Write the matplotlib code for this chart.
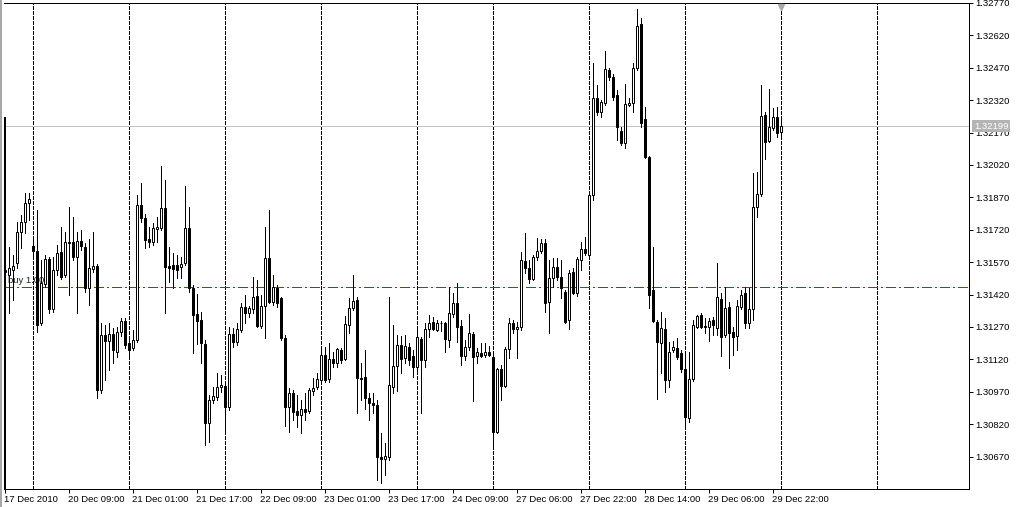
import matplotlib
matplotlib.use("Agg")
import matplotlib.pyplot as plt
from matplotlib.patches import Rectangle

# H1 bars, 17 Dec 2010 17:00 .. 30 Dec 2010 00:00 (index = bar number)
opens = [
    1.31525, 1.31511, 1.31534, 1.31566, 1.31710, 1.31756, 1.31844, 1.31645, 1.31622, 1.31289,
    1.31469, 1.31585, 1.31353, 1.31534, 1.31617, 1.31511, 1.31664, 1.31664, 1.31594, 1.31668,
    1.31640, 1.31451, 1.31538, 1.31552, 1.30978, 1.31233, 1.31205, 1.31238, 1.31154, 1.31247,
    1.31298, 1.31196, 1.31173, 1.31210, 1.31835, 1.31775, 1.31677, 1.31664, 1.31724, 1.31728,
    1.31821, 1.31552, 1.31557, 1.31557, 1.31548, 1.31566, 1.31728, 1.31451, 1.31330, 1.31302,
    1.31191, 1.30826, 1.30932, 1.30946, 1.30992, 1.30997, 1.30900, 1.31238, 1.31201, 1.31256,
    1.31363, 1.31335, 1.31353, 1.31413, 1.31275, 1.31367, 1.31589, 1.31386, 1.31451, 1.31404,
    1.31219, 1.30900, 1.30964, 1.30881, 1.30863, 1.30890, 1.30881, 1.30974, 1.30992, 1.31025,
    1.31140, 1.31029, 1.31122, 1.31103, 1.31164, 1.31122, 1.31279, 1.31358, 1.31395, 1.31034,
    1.31038, 1.30941, 1.30918, 1.30909, 1.30668, 1.30659, 1.30668, 1.30992, 1.31089, 1.31187,
    1.31126, 1.31177, 1.31136, 1.31085, 1.31214, 1.31117, 1.31261, 1.31293, 1.31256, 1.31289,
    1.31289, 1.31210, 1.31330, 1.31381, 1.31275, 1.31136, 1.31177, 1.31238, 1.31136, 1.31150,
    1.31140, 1.31154, 1.31131, 1.30784, 1.31076, 1.30997, 1.31168, 1.31289, 1.31261, 1.31270,
    1.31576, 1.31543, 1.31492, 1.31594, 1.31622, 1.31659, 1.31386, 1.31497, 1.31548, 1.31501,
    1.31432, 1.31302, 1.31525, 1.31427, 1.31580, 1.31631, 1.31603, 1.31881, 1.32330, 1.32265,
    1.32307, 1.32460, 1.32427, 1.32344, 1.32177, 1.32122, 1.32298, 1.32307, 1.32469, 1.32673,
    1.32233, 1.32057, 1.31441, 1.31293, 1.31196, 1.31261, 1.31025, 1.31164, 1.31173, 1.31150,
    1.31076, 1.30849, 1.31029, 1.31270, 1.31326, 1.31275, 1.31270, 1.31302, 1.31265, 1.31400,
    1.31233, 1.31363, 1.31247, 1.31228, 1.31363, 1.31427, 1.31289, 1.31353, 1.31826, 1.31886,
    1.32252, 1.32131, 1.32191, 1.32242, 1.32173,
]
highs = [
    1.31571, 1.31640, 1.31603, 1.31756, 1.31789, 1.31890, 1.31890, 1.31673, 1.31812, 1.31580,
    1.31603, 1.31594, 1.31594, 1.31650, 1.31733, 1.31710, 1.31826, 1.31779, 1.31710, 1.31719,
    1.31659, 1.31677, 1.31710, 1.31562, 1.31289, 1.31279, 1.31289, 1.31265, 1.31270, 1.31312,
    1.31312, 1.31224, 1.31256, 1.31881, 1.31937, 1.31793, 1.31733, 1.31751, 1.31779, 1.32015,
    1.31951, 1.31640, 1.31613, 1.31603, 1.31594, 1.31923, 1.31826, 1.31464, 1.31423, 1.31339,
    1.31210, 1.30955, 1.30992, 1.31057, 1.31048, 1.31006, 1.31270, 1.31265, 1.31289, 1.31381,
    1.31418, 1.31367, 1.31501, 1.31488, 1.31418, 1.31733, 1.31812, 1.31511, 1.31464, 1.31409,
    1.31233, 1.30988, 1.30978, 1.30955, 1.30932, 1.30964, 1.30988, 1.31034, 1.31057, 1.31177,
    1.31177, 1.31196, 1.31154, 1.31173, 1.31173, 1.31321, 1.31404, 1.31511, 1.31409, 1.31103,
    1.31164, 1.30964, 1.30964, 1.30932, 1.30779, 1.30733, 1.31409, 1.31279, 1.31233, 1.31228,
    1.31233, 1.31196, 1.31164, 1.31275, 1.31224, 1.31289, 1.31326, 1.31316, 1.31302, 1.31298,
    1.31293, 1.31455, 1.31427, 1.31474, 1.31302, 1.31210, 1.31330, 1.31247, 1.31173, 1.31196,
    1.31196, 1.31182, 1.31154, 1.31080, 1.31094, 1.31177, 1.31312, 1.31302, 1.31293, 1.31617,
    1.31705, 1.31580, 1.31603, 1.31682, 1.31677, 1.31677, 1.31580, 1.31589, 1.31589, 1.31580,
    1.31441, 1.31534, 1.31543, 1.31594, 1.31664, 1.31687, 1.31895, 1.32492, 1.32390, 1.32321,
    1.32548, 1.32469, 1.32441, 1.32367, 1.32196, 1.32395, 1.32330, 1.32492, 1.32742, 1.32701,
    1.32289, 1.32062, 1.31640, 1.31302, 1.31339, 1.31312, 1.31201, 1.31205, 1.31219, 1.31164,
    1.31159, 1.31154, 1.31302, 1.31326, 1.31335, 1.31312, 1.31312, 1.31316, 1.31566, 1.31427,
    1.31455, 1.31386, 1.31270, 1.31395, 1.31441, 1.31455, 1.31451, 1.31983, 1.31988, 1.32390,
    1.32265, 1.32372, 1.32284, 1.32289, 1.32242,
]
lows = [
    1.31395, 1.31335, 1.31395, 1.31543, 1.31636, 1.31705, 1.31765, 1.31589, 1.31247, 1.31279,
    1.31455, 1.31335, 1.31339, 1.31511, 1.31492, 1.31501, 1.31418, 1.31580, 1.31335, 1.31626,
    1.31432, 1.31372, 1.31525, 1.30941, 1.30964, 1.31025, 1.31071, 1.31103, 1.31131, 1.31228,
    1.31173, 1.31126, 1.31164, 1.31201, 1.31756, 1.31636, 1.31640, 1.31650, 1.31664, 1.31719,
    1.31335, 1.31478, 1.31451, 1.31497, 1.31497, 1.31557, 1.31432, 1.31150, 1.31191, 1.31103,
    1.30724, 1.30738, 1.30918, 1.30932, 1.30969, 1.30793, 1.30886, 1.31177, 1.31187, 1.31247,
    1.31289, 1.31316, 1.31335, 1.31270, 1.31265, 1.31219, 1.31381, 1.31372, 1.31363, 1.31210,
    1.30812, 1.30784, 1.30839, 1.30807, 1.30779, 1.30839, 1.30872, 1.30955, 1.30983, 1.31011,
    1.31015, 1.31015, 1.31085, 1.31085, 1.31103, 1.31117, 1.31242, 1.31349, 1.30872, 1.30932,
    1.30890, 1.30839, 1.30872, 1.30562, 1.30548, 1.30585, 1.30654, 1.30964, 1.30974, 1.31057,
    1.31103, 1.31094, 1.31038, 1.31062, 1.30872, 1.31085, 1.31224, 1.31256, 1.31251, 1.31251,
    1.31154, 1.31177, 1.31316, 1.31201, 1.31094, 1.31117, 1.31164, 1.30927, 1.31103, 1.31131,
    1.31131, 1.31136, 1.30714, 1.30779, 1.30932, 1.30992, 1.31126, 1.31242, 1.31126, 1.31256,
    1.31520, 1.31474, 1.31488, 1.31580, 1.31613, 1.31339, 1.31242, 1.31455, 1.31488, 1.31404,
    1.31289, 1.31261, 1.31423, 1.31413, 1.31534, 1.31603, 1.31589, 1.31858, 1.32252, 1.32242,
    1.32298, 1.32414, 1.32321, 1.32136, 1.32113, 1.32099, 1.32293, 1.32265, 1.32460, 1.32196,
    1.32052, 1.31358, 1.31293, 1.30937, 1.31057, 1.30969, 1.30992, 1.31154, 1.31122, 1.31062,
    1.30816, 1.30830, 1.31020, 1.31265, 1.31265, 1.31242, 1.31205, 1.31233, 1.31233, 1.31136,
    1.31224, 1.31080, 1.31140, 1.31164, 1.31353, 1.31265, 1.31265, 1.31302, 1.31779, 1.31877,
    1.32048, 1.32127, 1.32182, 1.32150, 1.32150,
]
closes = [
    1.31534, 1.31543, 1.31552, 1.31710, 1.31756, 1.31844, 1.31863, 1.31622, 1.31279, 1.31474,
    1.31585, 1.31353, 1.31534, 1.31613, 1.31501, 1.31664, 1.31659, 1.31594, 1.31668, 1.31645,
    1.31451, 1.31543, 1.31552, 1.30978, 1.31233, 1.31205, 1.31238, 1.31164, 1.31247, 1.31298,
    1.31187, 1.31164, 1.31210, 1.31835, 1.31775, 1.31673, 1.31664, 1.31728, 1.31733, 1.31821,
    1.31548, 1.31543, 1.31538, 1.31534, 1.31562, 1.31728, 1.31451, 1.31326, 1.31298, 1.31196,
    1.30826, 1.30932, 1.30951, 1.30992, 1.31001, 1.30900, 1.31238, 1.31201, 1.31261, 1.31363,
    1.31335, 1.31358, 1.31409, 1.31275, 1.31367, 1.31589, 1.31386, 1.31455, 1.31381, 1.31219,
    1.30900, 1.30964, 1.30876, 1.30863, 1.30890, 1.30876, 1.30978, 1.30988, 1.31029, 1.31140,
    1.31025, 1.31122, 1.31103, 1.31168, 1.31117, 1.31284, 1.31358, 1.31390, 1.31034, 1.31029,
    1.30941, 1.30918, 1.30909, 1.30668, 1.30659, 1.30673, 1.31001, 1.31089, 1.31187, 1.31122,
    1.31182, 1.31117, 1.31085, 1.31224, 1.31117, 1.31261, 1.31289, 1.31261, 1.31289, 1.31287,
    1.31214, 1.31335, 1.31381, 1.31270, 1.31136, 1.31177, 1.31242, 1.31131, 1.31154, 1.31136,
    1.31154, 1.31140, 1.30784, 1.31076, 1.30997, 1.31168, 1.31289, 1.31261, 1.31270, 1.31580,
    1.31543, 1.31492, 1.31594, 1.31622, 1.31659, 1.31381, 1.31497, 1.31548, 1.31501, 1.31451,
    1.31293, 1.31520, 1.31427, 1.31585, 1.31631, 1.31613, 1.31881, 1.32330, 1.32265, 1.32312,
    1.32465, 1.32427, 1.32335, 1.32196, 1.32122, 1.32302, 1.32307, 1.32469, 1.32664, 1.32215,
    1.32057, 1.31418, 1.31298, 1.31201, 1.31265, 1.31025, 1.31154, 1.31177, 1.31131, 1.31076,
    1.30853, 1.31029, 1.31279, 1.31321, 1.31270, 1.31270, 1.31298, 1.31279, 1.31409, 1.31224,
    1.31358, 1.31242, 1.31224, 1.31367, 1.31418, 1.31289, 1.31353, 1.31826, 1.31886, 1.32247,
    1.32127, 1.32196, 1.32242, 1.32168, 1.32199,
]

tick_bars = [0, 16, 32, 48, 64, 80, 96, 112, 128, 144, 160, 176, 192]
tick_labels = ["17 Dec 2010", "20 Dec 09:00", "21 Dec 01:00", "21 Dec 17:00",
               "22 Dec 09:00", "23 Dec 01:00", "23 Dec 17:00", "24 Dec 09:00",
               "27 Dec 06:00", "27 Dec 22:00", "28 Dec 14:00", "29 Dec 06:00",
               "29 Dec 22:00"]
day_separators = [7, 31, 55, 79, 103, 122, 146, 170, 194, 218]
price_ticks = [1.30670, 1.30820, 1.30970, 1.31120, 1.31270, 1.31420, 1.31570,
               1.31720, 1.31870, 1.32020, 1.32170, 1.32320, 1.32470, 1.32620, 1.32770]
bid_price = 1.32199
buy_price = 1.31454
buy_text = "buy 1.00"
edge_line_top = 1.32242

plt.rcParams['font.family'] = ['Liberation Sans', 'DejaVu Sans']
px = 0.72  # one pixel in points at dpi 100

fig = plt.figure(figsize=(10.24, 5.07), dpi=100)
fig.patches.append(Rectangle((0, 0), 1.5 / 1024, 1, transform=fig.transFigure,
                             facecolor='#a8a8a8', edgecolor='none'))
ax = fig.add_axes([4 / 1024, 18 / 507, 965 / 1024, 486.3 / 507])

ax.set_xlim(-0.125, 241.125)
ax.set_ylim(1.30520, 1.32771)

# day separators
for d in day_separators:
    ax.axvline(d, color='black', lw=px, linestyle=(0, (3, 2)), zorder=1,
               antialiased=False)

# bid and order lines
ax.axhline(bid_price, color='#c0c0c0', lw=px, zorder=1, antialiased=False)
ax.axhline(buy_price, color='#008000', lw=px, linestyle=(0, (10, 3, 2, 3)),
           zorder=1, antialiased=False)
ax.text(1, buy_price + 0.00008, buy_text, fontsize=6.8, color='#202020',
        va='bottom', ha='left', zorder=1.5)

# candles
for i in range(len(opens)):
    o, h, l, c = opens[i], highs[i], lows[i], closes[i]
    ax.vlines(i, l, h, color='black', lw=px, zorder=3, antialiased=False)
    face = 'white' if c >= o else 'black'
    ax.bar(i, abs(c - o), bottom=min(o, c), width=0.5, facecolor=face,
           edgecolor='black', linewidth=px, zorder=4)

ax.vlines(0.125, ax.get_ylim()[0], edge_line_top, color='black', lw=2 * px,
          zorder=5, clip_on=False)

# chart shift marker
ax.plot([194], [0.992], marker='v', markersize=5, color='#a8a8a8',
        transform=ax.get_xaxis_transform(), clip_on=False, zorder=6)

# axes styling
ax.spines['left'].set_visible(False)
for s in ['top', 'right', 'bottom']:
    ax.spines[s].set_linewidth(px)
    ax.spines[s].set_color('black')

ax.yaxis.tick_right()
ax.set_yticks(price_ticks)
ax.set_yticklabels(["%.5f" % p for p in price_ticks])
ax.tick_params(axis='y', direction='out', length=4 * px, width=px, pad=1.5,
               labelsize=6.8, colors='black')

ax.set_xticks(tick_bars)
ax.set_xticklabels(tick_labels)
for lab in ax.get_xticklabels():
    lab.set_horizontalalignment('left')
ax.tick_params(axis='x', direction='out', length=4 * px, width=px, pad=1.5,
               labelsize=6.8, colors='black')

# bid price label box on the price scale
ax.annotate("%.5f" % bid_price, xy=(1.0, bid_price),
            xycoords=('axes fraction', 'data'), xytext=(3.5, 0),
            textcoords='offset points', va='center', ha='left',
            fontsize=6.8, color='white', zorder=10, annotation_clip=False,
            bbox=dict(boxstyle='square,pad=0.15', facecolor='#b4b4b4',
                      edgecolor='none'))

fig.savefig("out.png", dpi=100)
